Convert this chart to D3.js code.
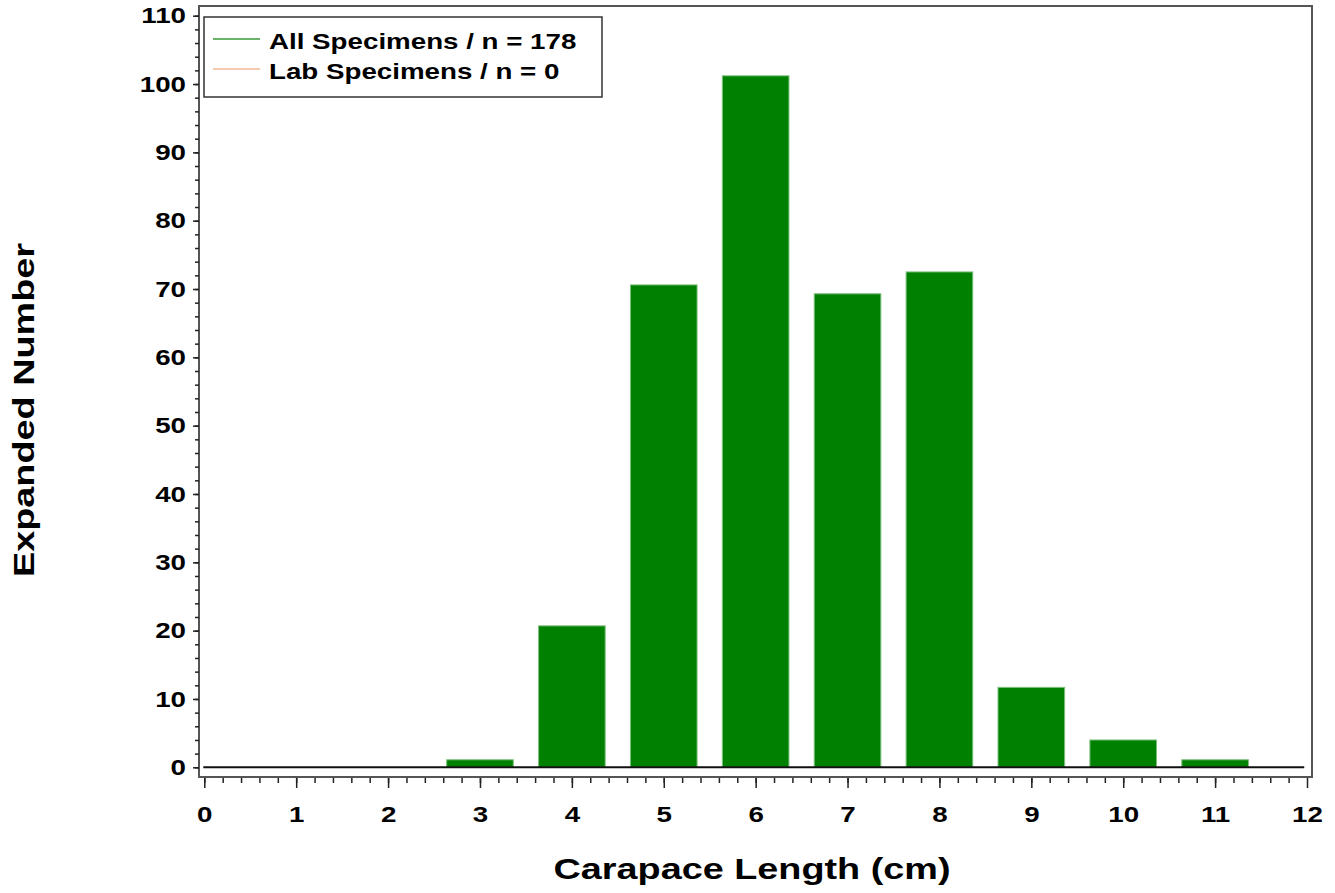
<!DOCTYPE html>
<html>
<head>
<meta charset="utf-8">
<script src="https://cdn.jsdelivr.net/npm/d3@7"></script>
<style>
body { margin: 0; background: #fff; }
text { font-family: "Liberation Sans", Arial, sans-serif; font-weight: bold; fill: #000; }
</style>
</head>
<body>
<script>
var lengths = [3, 4, 5, 6, 7, 8, 9, 10, 11];
var counts  = [1.1, 20.7, 70.6, 101.2, 69.3, 72.5, 11.7, 4.0, 1.1];
var xTicks = [0, 1, 2, 3, 4, 5, 6, 7, 8, 9, 10, 11, 12];
var yTicks = [0, 10, 20, 30, 40, 50, 60, 70, 80, 90, 100, 110];
var legendLabels = ["All Specimens / n = 178", "Lab Specimens / n = 0"];
var legendColors = ["#3a9a3a", "#f0b896"];

var width = 1335, height = 893;
var frame = {left: 199, top: 6, right: 1312, bottom: 777};
var stretch = 1.26; // the original font renders wider than Liberation Sans

var xScale = d3.scaleLinear().domain([0, 12]).range([204.3, 1307]);
var yScale = d3.scaleLinear().domain([0, 110]).range([767.3, 15.7]);
var barWidth = 0.725;

var svg = d3.select("body").append("svg")
.attr("width", width)
.attr("height", height);

function widen(sel) {
  sel.each(function() {
    var w = this.getComputedTextLength();
    d3.select(this).attr("textLength", w * stretch).attr("lengthAdjust", "spacingAndGlyphs");
  });
}

// bars
svg.append("g").selectAll("rect")
.data(counts)
.enter().append("rect")
.attr("x", function(d, i) { return xScale(lengths[i] - barWidth / 2); })
.attr("width", function() { return xScale(barWidth) - xScale(0); })
.attr("y", function(d) { return yScale(d); })
.attr("height", function(d) { return yScale(0) - yScale(d); })
.attr("fill", "#008000")
.attr("stroke", "#7cc07c")
.attr("stroke-width", 1);

// zero line
svg.append("line")
.attr("x1", xScale(0) - 1).attr("x2", xScale(11.97))
.attr("y1", yScale(0)).attr("y2", yScale(0))
.attr("stroke", "#111")
.attr("stroke-width", 2);

// frame
svg.append("rect")
.attr("x", frame.left).attr("y", frame.top)
.attr("width", frame.right - frame.left)
.attr("height", frame.bottom - frame.top)
.attr("fill", "none")
.attr("stroke", "#555")
.attr("stroke-width", 2);

// x axis
svg.append("g")
.attr("transform", "translate(0," + (frame.bottom + 1) + ")")
.call(d3.axisBottom(xScale).tickValues(d3.range(0, 60).map(function(i) { return i / 5; })).tickSize(5).tickFormat(""));
var xAxisGroup = svg.append("g")
.attr("transform", "translate(0," + (frame.bottom + 1) + ")")
.call(d3.axisBottom(xScale).tickValues(xTicks).tickSize(10).tickPadding(18).tickFormat(d3.format("d")));

// y axis
svg.append("g")
.attr("transform", "translate(" + frame.left + ",0)")
.call(d3.axisLeft(yScale).tickValues(d3.range(0, 56).map(function(i) { return i * 2; })).tickSize(4).tickFormat(""));
var yAxisGroup = svg.append("g")
.attr("transform", "translate(" + frame.left + ",0)")
.call(d3.axisLeft(yScale).tickValues(yTicks).tickSize(6).tickPadding(7).tickFormat(d3.format("d")));

svg.selectAll(".domain").remove();
svg.selectAll(".tick line").attr("stroke", "#222").attr("stroke-width", 1.5);
[xAxisGroup, yAxisGroup].forEach(function(g) {
  g.selectAll("text")
  .attr("font-size", 22)
  .style("font-family", "'Liberation Sans', Arial, sans-serif")
  .style("font-weight", "bold")
  .attr("fill", "#000")
  .call(widen);
});

// axis titles
svg.append("text")
.attr("x", 752).attr("y", 879)
.attr("text-anchor", "middle")
.attr("font-size", 30)
.text("Carapace Length (cm)")
.call(widen);

svg.append("text")
.attr("transform", "translate(34,410) rotate(-90)")
.attr("text-anchor", "middle")
.attr("font-size", 30)
.text("Expanded Number")
.call(widen);

// legend
var legend = svg.append("g");
legend.append("rect")
.attr("x", 204).attr("y", 17)
.attr("width", 398).attr("height", 80)
.attr("fill", "#fff")
.attr("stroke", "#333")
.attr("stroke-width", 1.5);

legendLabels.forEach(function(label, i) {
  var yy = 39 + i * 30;
  legend.append("line")
  .attr("x1", 213).attr("x2", 260)
  .attr("y1", yy).attr("y2", yy)
  .attr("stroke", legendColors[i])
  .attr("stroke-width", 1.5);
  legend.append("text")
  .attr("x", 269).attr("y", yy + 10)
  .attr("font-size", 22)
  .text(label)
  .call(widen);
});
</script>
</body>
</html>
